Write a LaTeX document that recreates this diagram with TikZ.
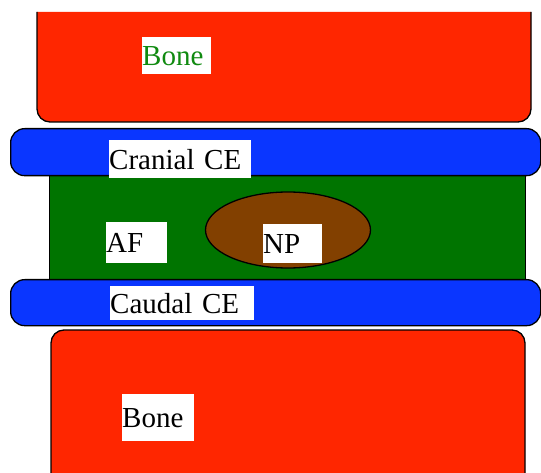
\documentclass[tikz,border=0pt]{standalone}
\usepackage{fontspec}
\setmainfont{Liberation Serif}
\usetikzlibrary{shapes.geometric}
\definecolor{bonered}{HTML}{FF2600}
\definecolor{ceblue}{HTML}{0A36FF}
\definecolor{afgreen}{HTML}{007400}
\definecolor{npbrown}{HTML}{824000}
\definecolor{labgreen}{HTML}{108A10}
\tikzset{
  part/.style={draw=black, line width=1.3pt},
  lab/.style={fill=white, inner sep=0pt, anchor=north west, align=left,
    font=\fontsize{29}{29}\selectfont},
}
\begin{document}
\begin{tikzpicture}[x=1pt,y=-1pt]
\useasboundingbox (0,0) rectangle (541,473);
% annulus fibrosus
\node[part, fill=afgreen, rectangle, inner sep=0pt, minimum width=476pt, minimum height=107pt, anchor=north west] (af) at (49,175) {};
% nucleus pulposus
\node[part, fill=npbrown, ellipse, inner sep=0pt, minimum width=165pt, minimum height=76pt] (np) at (288,230) {};
% top bone
\fill[bonered] (37,12) -- (37,109) arc[start angle=180, end angle=90, radius=13] -- (518,122) arc[start angle=90, end angle=0, radius=13] -- (531,12) -- cycle;
\draw[line width=1.3pt] (37,12) -- (37,109) arc[start angle=180, end angle=90, radius=13] -- (518,122) arc[start angle=90, end angle=0, radius=13] -- (531,12);
\coordinate (topbone) at (284,67);
% bottom bone
\fill[bonered] (51,473) -- (51,343) arc[start angle=180, end angle=270, radius=13] -- (512,330) arc[start angle=270, end angle=360, radius=13] -- (525,473) -- cycle;
\draw[line width=1.3pt] (51,473) -- (51,343) arc[start angle=180, end angle=270, radius=13] -- (512,330) arc[start angle=270, end angle=360, radius=13] -- (525,473);
\coordinate (botbone) at (288,400);
% cartilage endplates
\node[part, fill=ceblue, rectangle, rounded corners=14pt, inner sep=0pt, minimum width=530pt, minimum height=47pt, anchor=north west] (cranial) at (10,128) {};
\node[part, fill=ceblue, rectangle, rounded corners=14pt, inner sep=0pt, minimum width=530pt, minimum height=46pt, anchor=north west] (caudal) at (10,279) {};
% labels
\node[lab, text width=69pt, minimum height=37pt, text=labgreen] (lbone1) at (142,37) {Bone};
\node[lab, text width=142pt, minimum height=38pt] (lcranial) at (109,140) {Cranial CE};
\node[lab, text width=61pt, minimum height=41pt] (laf) at (106,222) {AF};
\node[lab, text width=59pt, minimum height=39pt] (lnp) at (263,224) {NP};
\node[lab, text width=144pt, minimum height=34pt] (lcaudal) at (110,286) {Caudal CE};
\node[lab, text width=72pt, minimum height=47pt] (lbone2) at (122,394) {Bone};
\end{tikzpicture}
\end{document}
